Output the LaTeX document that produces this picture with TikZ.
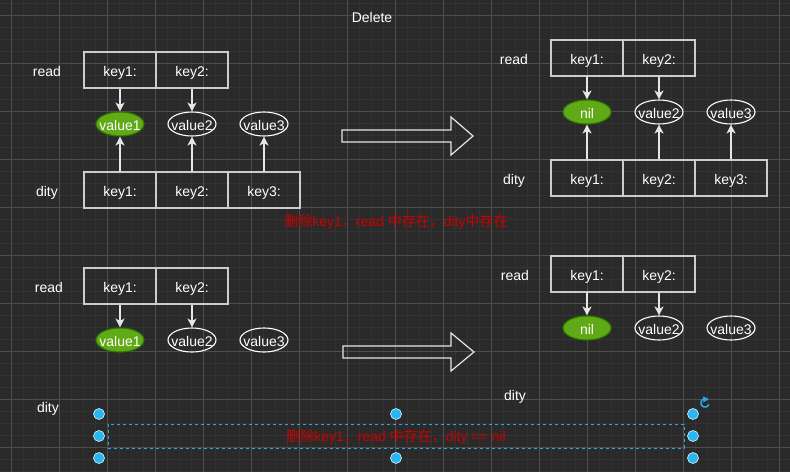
\documentclass[tikz,border=0pt]{standalone}
\usepackage{fontspec}
\setmainfont{Liberation Sans}
\newfontfamily\cjk{Noto Sans CJK SC}
\usetikzlibrary{arrows.meta,shapes.geometric}
\definecolor{bg}{HTML}{2A2A2A}
\definecolor{gminor}{HTML}{333333}
\definecolor{gmajor}{HTML}{4E4E4E}
\definecolor{boxc}{HTML}{CCCCCC}
\definecolor{arrc}{HTML}{E6E6E6}
\definecolor{gfill}{HTML}{60A917}
\definecolor{gdraw}{HTML}{2D7600}
\definecolor{redtxt}{HTML}{CC0000}
\definecolor{selblue}{HTML}{29A8E6}
\definecolor{handle}{HTML}{29B6F2}
\begin{document}
\begin{tikzpicture}[x=1pt,y=-1pt,
  txt/.style={text=white,font=\fontsize{14}{16}\selectfont,inner sep=0,text height=13pt,text depth=1pt},
  cell/.style={txt,draw=boxc,line width=1.3pt,minimum width=72pt,minimum height=36pt},
  val/.style={txt,ellipse,draw=white,line width=1.1pt,minimum width=48pt,minimum height=24pt},
  gval/.style={val,fill=gfill,draw=gdraw},
  arr/.style={draw=arrc,line width=1.3pt,-{Stealth[length=9pt,width=9pt,inset=2.5pt]}},
  bigarrow/.style={draw=arrc,line width=1.2pt,line join=miter},
  redlabel/.style={text=redtxt,font=\fontsize{14}{16}\selectfont,inner sep=0,text height=13pt,text depth=1pt},
  hdl/.style={circle,fill=handle,draw=white!85!handle,line width=0.6pt,minimum size=11pt,inner sep=0}
]
\fill[bg] (0,0) rectangle (790,472);
\useasboundingbox (0,0) rectangle (790,472);
% grid
\foreach \i in {0,...,66} \draw[gminor,line width=0.8pt] ({\i*12-0.5},0) -- ({\i*12-0.5},472);
\foreach \i in {0,...,39} \draw[gminor,line width=0.8pt] (0,{\i*12+3.5}) -- (790,{\i*12+3.5});
\foreach \i in {0,...,16} \draw[gmajor,line width=0.8pt] ({\i*48+11.5},0) -- ({\i*48+11.5},472);
\foreach \i in {0,...,9} \draw[gmajor,line width=0.8pt] (0,{\i*48+15.5}) -- (790,{\i*48+15.5});

% title
\node[txt] (title) at (372,16) {Delete};

% ---- top-left ----
\node[txt] (lr1) at (47,70) {read};
\node[txt] (ld1) at (47,190) {dity};
\node[cell] (r1a) at (120,70) {key1:};
\node[cell] (r1b) at (192,70) {key2:};
\node[gval] (v1a) at (120,124) {\makebox[0pt]{value1}};
\node[val] (v1b) at (192,124) {\makebox[0pt]{value2}};
\node[val] (v1c) at (264,124) {\makebox[0pt]{value3}};
\node[cell] (d1a) at (120,190) {key1:};
\node[cell] (d1b) at (192,190) {key2:};
\node[cell] (d1c) at (264,190) {key3:};
\draw[arr] (r1a.south) -- (v1a.north);
\draw[arr] (r1b.south) -- (v1b.north);
\draw[arr] (d1a.north) -- (v1a.south);
\draw[arr] (d1b.north) -- (v1b.south);
\draw[arr] (d1c.north) -- (v1c.south);

% ---- top-right ----
\node[txt] (lr2) at (514,58) {read};
\node[txt] (ld2) at (514,178) {dity};
\node[cell] (r2a) at (587,58) {key1:};
\node[cell] (r2b) at (659,58) {key2:};
\node[gval] (v2a) at (587,112) {\makebox[0pt]{nil}};
\node[val] (v2b) at (659,112) {\makebox[0pt]{value2}};
\node[val] (v2c) at (731,112) {\makebox[0pt]{value3}};
\node[cell] (d2a) at (587,178) {key1:};
\node[cell] (d2b) at (659,178) {key2:};
\node[cell] (d2c) at (731,178) {key3:};
\draw[arr] (r2a.south) -- (v2a.north);
\draw[arr] (r2b.south) -- (v2b.north);
\draw[arr] (d2a.north) -- (v2a.south);
\draw[arr] (d2b.north) -- (v2b.south);
\draw[arr] (d2c.north) -- (v2c.south);

% big arrows
\draw[bigarrow] (342,130) -- (451,130) -- (451,117) -- (473,136) -- (451,155) -- (451,142) -- (342,142) -- cycle;
\draw[bigarrow] (343,346) -- (451,346) -- (451,333) -- (474,352) -- (451,371) -- (451,358) -- (343,358) -- cycle;

% red caption 1
\node[redlabel] (cap1) at (396,220) {{\cjk 删除}key1{\cjk ，}read {\cjk 中存在，}dity{\cjk 中存在}};

% ---- bottom-left ----
\node[txt] (lr3) at (49,286) {read};
\node[txt] (ld3) at (48,406) {dity};
\node[cell] (r3a) at (120,286) {key1:};
\node[cell] (r3b) at (192,286) {key2:};
\node[gval] (v3a) at (120,340) {\makebox[0pt]{value1}};
\node[val] (v3b) at (192,340) {\makebox[0pt]{value2}};
\node[val] (v3c) at (264,340) {\makebox[0pt]{value3}};
\draw[arr] (r3a.south) -- (v3a.north);
\draw[arr] (r3b.south) -- (v3b.north);

% ---- bottom-right ----
\node[txt] (lr4) at (515,274) {read};
\node[txt] (ld4) at (515,394) {dity};
\node[cell] (r4a) at (587,274) {key1:};
\node[cell] (r4b) at (659,274) {key2:};
\node[gval] (v4a) at (587,328) {\makebox[0pt]{nil}};
\node[val] (v4b) at (659,328) {\makebox[0pt]{value2}};
\node[val] (v4c) at (731,328) {\makebox[0pt]{value3}};
\draw[arr] (r4a.south) -- (v4a.north);
\draw[arr] (r4b.south) -- (v4b.north);

% selected caption 2
\node[draw=selblue,dashed,line width=0.8pt,minimum width=576pt,minimum height=24pt,inner sep=0] (sel) at (396,436) {};
\node[redlabel] (cap2) at (396,435) {{\cjk 删除}key1{\cjk ，}read {\cjk 中存在，}dity == nil};
\foreach \hx/\hy/\hn in {99/414/h1,396/414/h2,693/414/h3,99/436/h4,693/436/h5,99/458/h6,396/458/h7,693/458/h8}
  \node[hdl] (\hn) at (\hx,\hy) {};
\coordinate (rot) at (705,403);
\draw[selblue,line width=1.5pt] ([shift={(20:4.2)}]rot) arc[start angle=20,delta angle=290,radius=4.2];
\fill[selblue] ([shift={(-2,-6.5)}]rot) -- ([shift={(3.5,-4.2)}]rot) -- ([shift={(-1.5,-0.5)}]rot) -- cycle;
\end{tikzpicture}
\end{document}
